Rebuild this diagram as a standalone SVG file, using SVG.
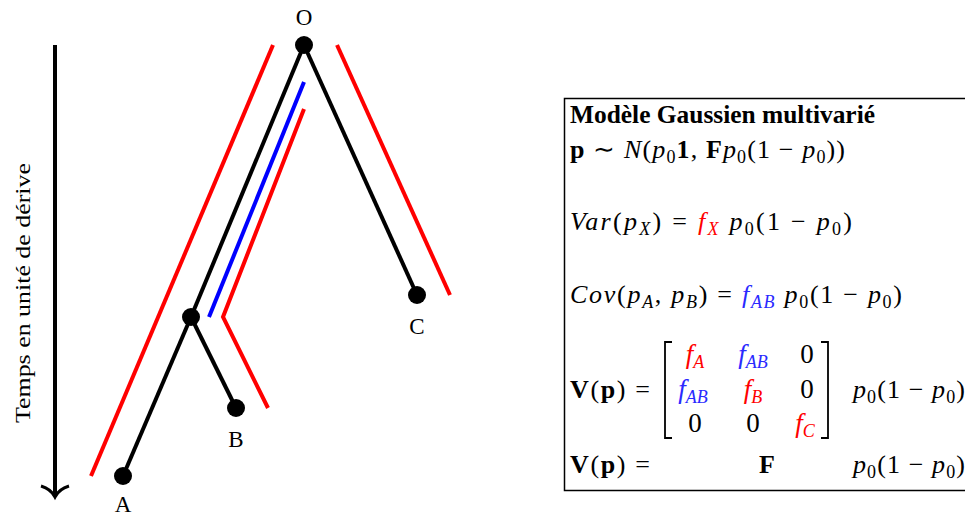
<svg xmlns="http://www.w3.org/2000/svg" width="965" height="517" viewBox="0 0 965 517">
<style>
.lbl{font-family:"Liberation Serif",serif;font-size:23px;fill:#000;text-anchor:middle}
.m{font-family:"Liberation Serif",serif;font-size:26px;fill:#000}
.i{font-style:italic}
.b{font-weight:bold}
.s{font-size:18px}
.r{fill:#ff0000}
.bl{fill:#2a2aff}
.e{font-size:27px;text-anchor:middle}
.edge{stroke:#000;stroke-width:4;fill:none}
.red{stroke:#ff0000;stroke-width:4;fill:none}
.blue{stroke:#0000ff;stroke-width:4;fill:none}
.node{fill:#000}
</style>
<rect width="965" height="517" fill="#fff"/>
<g id="axis">
<line x1="55" y1="45" x2="55" y2="495" stroke="#000" stroke-width="4"/>
<path d="M41,486 Q51,489 55,497 Q59,489 69,486" stroke="#000" stroke-width="3" fill="none"/>
<text font-family="Liberation Serif, serif" font-size="22" transform="translate(30,293) rotate(-90)" text-anchor="middle" textLength="260" lengthAdjust="spacingAndGlyphs">Temps en unité de dérive</text>
</g>
<g id="drift">
<line class="red" x1="273" y1="45" x2="91" y2="476"/>
<line class="red" x1="337" y1="45" x2="450" y2="295"/>
<line class="blue" x1="304" y1="82" x2="209" y2="317"/>
<polyline class="red" points="304,109 223,317 268,408"/>
</g>
<g id="connectors">
<line class="edge" x1="304" y1="45" x2="191" y2="317"/>
<line class="edge" x1="191" y1="317" x2="123" y2="476"/>
<line class="edge" x1="191" y1="317" x2="236" y2="408"/>
<line class="edge" x1="304" y1="45" x2="417" y2="295"/>
</g>
<g id="node-O"><circle class="node" cx="304" cy="45" r="9"/><text class="lbl" x="304" y="25">O</text></g>
<g id="node-AB"><circle class="node" cx="191" cy="317" r="9"/></g>
<g id="node-A"><circle class="node" cx="123" cy="476" r="9"/><text class="lbl" x="123" y="512">A</text></g>
<g id="node-B"><circle class="node" cx="236" cy="408" r="9"/><text class="lbl" x="236" y="447">B</text></g>
<g id="node-C"><circle class="node" cx="417" cy="295" r="9"/><text class="lbl" x="417" y="334">C</text></g>
<g id="model-box">
<rect x="564.5" y="98.5" width="420" height="392" fill="none" stroke="#000" stroke-width="1.5"/>
<text class="m b" x="570" y="123" font-size="23" textLength="305" lengthAdjust="spacingAndGlyphs">Modèle Gaussien multivarié</text>
<text class="m" x="570" y="158" textLength="275"><tspan class="b">p</tspan> ∼ <tspan class="i">N</tspan>(<tspan class="i">p</tspan><tspan class="s" dy="5">0</tspan><tspan class="b" dy="-5">1</tspan>, <tspan class="b">F</tspan><tspan class="i">p</tspan><tspan class="s" dy="5">0</tspan><tspan dy="-5">(1 − </tspan><tspan class="i">p</tspan><tspan class="s" dy="5">0</tspan><tspan dy="-5">))</tspan></text>
<text class="m" x="570" y="230" textLength="282"><tspan class="i">Var</tspan>(<tspan class="i">p</tspan><tspan class="s i" dy="5">X</tspan><tspan dy="-5">) = </tspan><tspan class="i r">f</tspan><tspan class="s i r" dy="5">X</tspan><tspan dy="-5"> </tspan><tspan class="i">p</tspan><tspan class="s" dy="5">0</tspan><tspan dy="-5">(1 − </tspan><tspan class="i">p</tspan><tspan class="s" dy="5">0</tspan><tspan dy="-5">)</tspan></text>
<text class="m" x="570" y="303" textLength="332"><tspan class="i">Cov</tspan>(<tspan class="i">p</tspan><tspan class="s i" dy="5">A</tspan><tspan dy="-5">, </tspan><tspan class="i">p</tspan><tspan class="s i" dy="5">B</tspan><tspan dy="-5">) = </tspan><tspan class="i bl">f</tspan><tspan class="s i bl" dy="5">AB</tspan><tspan dy="-5"> </tspan><tspan class="i">p</tspan><tspan class="s" dy="5">0</tspan><tspan dy="-5">(1 − </tspan><tspan class="i">p</tspan><tspan class="s" dy="5">0</tspan><tspan dy="-5">)</tspan></text>
<text class="m" x="570" y="398" textLength="80"><tspan class="b">V</tspan>(<tspan class="b">p</tspan>) =</text>
<path d="M672,342 H665 V438 H672 M821,342 H828 V438 H821" stroke="#000" stroke-width="1.8" fill="none"/>
<text class="m e" x="695" y="363"><tspan class="i r">f</tspan><tspan class="s i r" dy="5">A</tspan></text>
<text class="m e" x="753" y="363"><tspan class="i bl">f</tspan><tspan class="s i bl" dy="5">AB</tspan></text>
<text class="m e" x="807" y="363">0</text>
<text class="m e" x="693" y="398"><tspan class="i bl">f</tspan><tspan class="s i bl" dy="5">AB</tspan></text>
<text class="m e" x="753" y="398"><tspan class="i r">f</tspan><tspan class="s i r" dy="5">B</tspan></text>
<text class="m e" x="807" y="398">0</text>
<text class="m e" x="695" y="432">0</text>
<text class="m e" x="753" y="432">0</text>
<text class="m e" x="805" y="432"><tspan class="i r">f</tspan><tspan class="s i r" dy="5">C</tspan></text>
<text class="m" x="853" y="398" textLength="112"><tspan class="i">p</tspan><tspan class="s" dy="5">0</tspan><tspan dy="-5">(1 − </tspan><tspan class="i">p</tspan><tspan class="s" dy="5">0</tspan><tspan dy="-5">)</tspan></text>
<text class="m" x="570" y="473" textLength="80"><tspan class="b">V</tspan>(<tspan class="b">p</tspan>) =</text>
<text class="m b" x="767" y="473" text-anchor="middle">F</text>
<text class="m" x="853" y="473" textLength="112"><tspan class="i">p</tspan><tspan class="s" dy="5">0</tspan><tspan dy="-5">(1 − </tspan><tspan class="i">p</tspan><tspan class="s" dy="5">0</tspan><tspan dy="-5">)</tspan></text>
</g>
</svg>
